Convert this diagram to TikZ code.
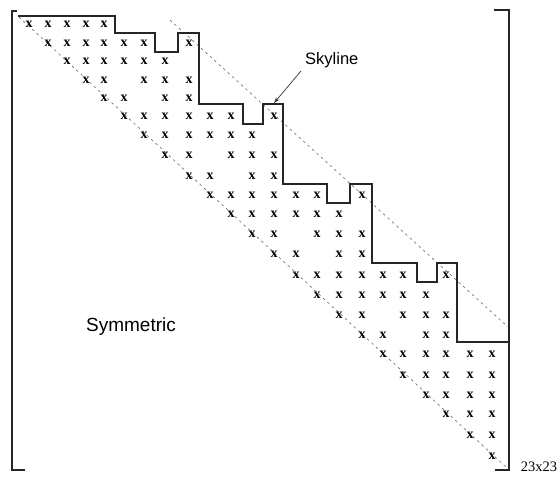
\documentclass[tikz,border=0pt]{standalone}
\usepackage{fontspec}
\setmainfont{Liberation Serif}
\newfontfamily\sansf{Liberation Sans}
\usetikzlibrary{arrows.meta}
\begin{document}
\begin{tikzpicture}[x=1pt,y=-1pt,
  xmark/.style={inner sep=0pt,font=\fontsize{14}{14}\selectfont\bfseries},
  bracket/.style={draw=black!85,line width=1.2pt},
  skyline/.style={draw=black!85,line width=1.1pt},
  diag/.style={draw=black!60,line width=0.6pt,dash pattern=on 2.5pt off 3.5pt},
  pointer/.style={draw=black!80,line width=0.7pt,-{Stealth[length=6pt,width=4pt]}},
  label/.style={font=\sansf\fontsize{17}{17}\selectfont,inner sep=0pt}]
\useasboundingbox (0,0) rectangle (560,477);
\def\colx{{29,48,67,86,104,124,144,165,189,210,231,252,274,296,317,339,362,383,403,426,446,470,492}}
\def\rowy{{24,43,61,80,98,116,135,155,176,195,214,234,254,275,295,315,335,354,375,395,414,435,456}}
% brackets
\draw[bracket] (17,11) -- (12,11) -- (12,470) -- (25,470);
\draw[bracket] (494,10) -- (509,10) -- (509,470) -- (495,470);
% diagonal guide lines
\draw[diag] (19,17) -- (507,468);
\draw[diag] (170,20) -- (508,327);
% skyline envelope
\draw[skyline] (18,16) -- (115,16) -- (115,33) -- (155,33) -- (155,52) -- (178,52)
  -- (178,33) -- (199,33) -- (199,104) -- (243,104) -- (243,124) -- (263,124)
  -- (263,104) -- (283,104) -- (283,184) -- (327,184) -- (327,203) -- (350,203)
  -- (350,184) -- (372,184) -- (372,263) -- (417,263) -- (417,282) -- (437,282)
  -- (437,263) -- (457,263) -- (457,342) -- (508,342);
% entries
\foreach \r/\cols in {1/{1,2,3,4,5},2/{2,3,4,5,6,7,9},3/{3,4,5,6,7,8},4/{4,5,7,8,9},
  5/{5,6,8,9},6/{6,7,8,9,10,11,13},7/{7,8,9,10,11,12},8/{8,9,11,12,13},9/{9,10,12,13},
  10/{10,11,12,13,14,15,17},11/{11,12,13,14,15,16},12/{12,13,15,16,17},13/{13,14,16,17},
  14/{14,15,16,17,18,19,21},15/{15,16,17,18,19,20},16/{16,17,19,20,21},17/{17,18,20,21},
  18/{18,19,20,21,22,23},19/{19,20,21,22,23},20/{20,21,22,23},21/{21,22,23},22/{22,23},23/{23}}{
  \foreach \c in \cols {
    \pgfmathsetmacro\xx{\colx[\c-1]}
    \pgfmathsetmacro\yy{\rowy[\r-1]}
    \node[xmark] (x-\r-\c) at (\xx,\yy) {x};
  }
}
% labels
\node[label,anchor=west,font=\sansf\fontsize{16.5}{16.5}\selectfont] (sky) at (305,60) {Skyline};
\coordinate (skytail) at (301,71);
\coordinate (skytip) at (274,103);
\draw[pointer] (skytail) -- (skytip);
\node[label,font=\sansf\fontsize{19}{19}\selectfont] (sym) at (131,327) {Symmetric};
\node[font=\fontsize{14.5}{14.5}\selectfont,inner sep=0pt] (size) at (539,467) {23x23};
\end{tikzpicture}
\end{document}
